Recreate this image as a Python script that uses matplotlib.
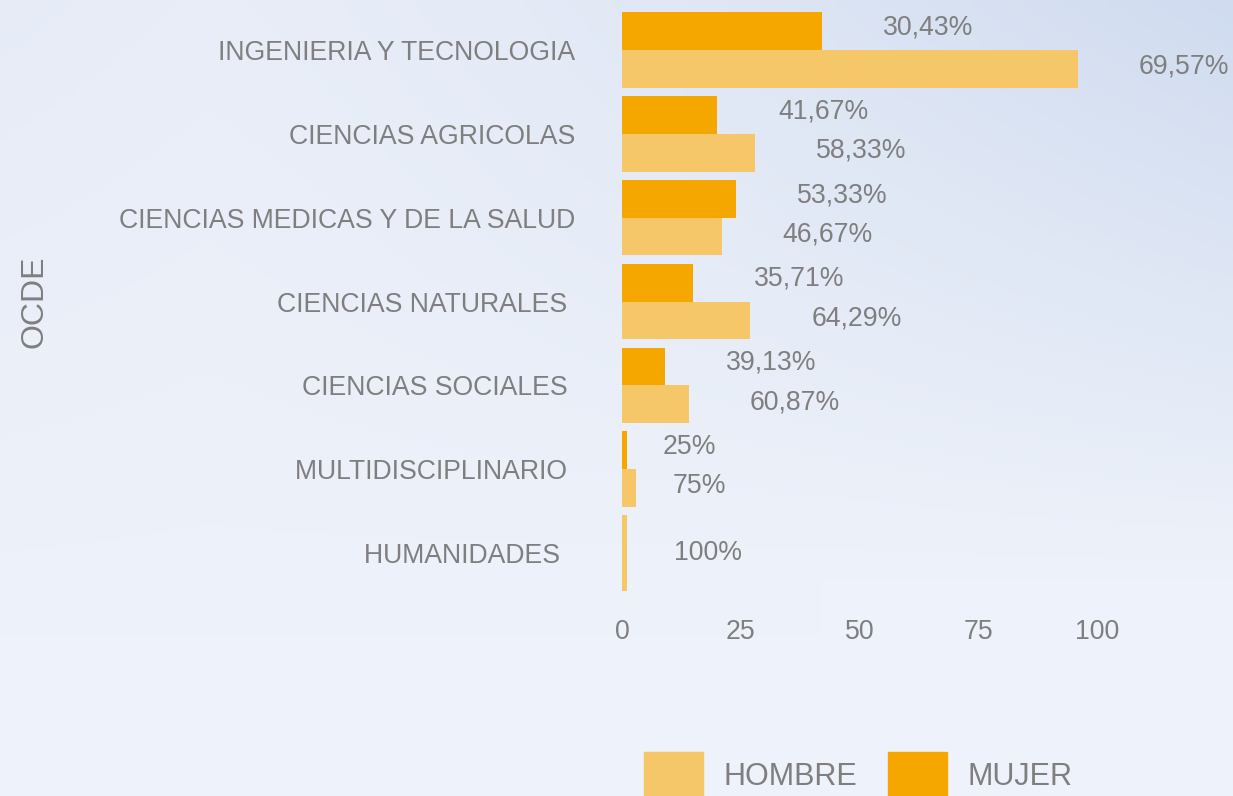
import matplotlib
matplotlib.use("Agg")
import matplotlib.pyplot as plt
import numpy as np
from matplotlib.patches import Patch

plt.rcParams['font.family'] = ['Liberation Sans', 'DejaVu Sans']

categories = ["INGENIERIA Y TECNOLOGIA", "CIENCIAS AGRICOLAS", "CIENCIAS MEDICAS Y DE LA SALUD",
              "CIENCIAS NATURALES ", "CIENCIAS SOCIALES ", "MULTIDISCIPLINARIO ", "HUMANIDADES  "]
hombre = [96, 28, 21, 27, 14, 3, 1]
mujer = [42, 20, 24, 15, 9, 1, None]
hombre_pct = ["69,57%", "58,33%", "46,67%", "64,29%", "60,87%", "75%", "100%"]
mujer_pct = ["30,43%", "41,67%", "53,33%", "35,71%", "39,13%", "25%", None]
ticks = [0, 25, 50, 75, 100]

C_H = "#F6C769"
C_M = "#F5A700"
GRAY = "#7F7F7F"

W, H = 1233, 796
fig = plt.figure(figsize=(W / 100, H / 100), dpi=100)

# background gradient
bg = fig.add_axes([0, 0, 1, 1])
yy, xx = np.mgrid[0:1:200j, 0:1:300j]
base = np.array([238, 242, 250]) / 255.0
blue = np.array([206, 218, 239]) / 255.0
mid = np.array([226, 232, 245]) / 255.0
w1 = np.clip((1 - yy) * 1.3 - 0.35, 0, 1) * np.clip(xx * 1.2 - 0.2, 0, 1)
w2 = np.clip(0.8 - yy, 0, 1) * np.clip(1 - xx * 1.5, 0, 1) * 0.8
img = base[None, None, :] * (1 - w1[..., None]) + blue[None, None, :] * w1[..., None]
img = img * (1 - w2[..., None]) + mid[None, None, :] * w2[..., None]
bg.imshow(img, aspect='auto', extent=[0, 1, 0, 1], origin='upper')
bg.axis('off')

left = 622 / W
right = 1192 / W
top = 8
bottom = 595
ax = fig.add_axes([left, 1 - bottom / H, right - left, (bottom - top) / H])
ax.patch.set_alpha(0)
n = len(categories)
ax.set_xlim(0, 120)
ax.set_ylim(n - 0.5, -0.5)
fs = 19.2

def label_offset(s):
    return 36 if len(s) <= 3 else (47 if len(s) == 4 else 61)

for i in range(n):
    if mujer[i] is None:
        ax.barh(i, hombre[i], height=0.9, color=C_H)
        ax.annotate(hombre_pct[i], (hombre[i], i), xytext=(label_offset(hombre_pct[i]) * 0.72, 0),
                    textcoords='offset points', ha='left', va='center', fontsize=fs, color=GRAY)
    else:
        ax.barh(i - 0.225, mujer[i], height=0.45, color=C_M)
        ax.barh(i + 0.225, hombre[i], height=0.45, color=C_H)
        ax.annotate(mujer_pct[i], (mujer[i], i - 0.27), xytext=(label_offset(mujer_pct[i]) * 0.72, 0),
                    textcoords='offset points', ha='left', va='center', fontsize=fs, color=GRAY)
        ax.annotate(hombre_pct[i], (hombre[i], i + 0.2), xytext=(label_offset(hombre_pct[i]) * 0.72, 0),
                    textcoords='offset points', ha='left', va='center', fontsize=fs, color=GRAY)

ax.set_yticks(range(n))
ax.set_yticklabels(categories, fontsize=fs, color=GRAY)
ax.set_xticks(ticks)
ax.set_xticklabels([str(t) for t in ticks], fontsize=fs, color=GRAY)
ax.tick_params(axis='y', length=0, pad=34)
ax.tick_params(axis='x', length=0, pad=17.5)
for s in ax.spines.values():
    s.set_visible(False)

fig.text(35 / W, 1 - 302 / H, "OCDE", rotation=90, fontsize=23, color=GRAY, ha='center', va='center')

handles = [Patch(color=C_H, label="HOMBRE"), Patch(color=C_M, label="MUJER")]
fig.legend(handles=handles, loc='center', bbox_to_anchor=(858 / W, 1 - 775 / H), ncol=2,
           frameon=False, fontsize=22, labelcolor=GRAY, handlelength=1.95, handleheight=1.9,
           handletextpad=0.65, columnspacing=1.0, borderpad=0, borderaxespad=0)

fig.savefig("out.png", dpi=100)
